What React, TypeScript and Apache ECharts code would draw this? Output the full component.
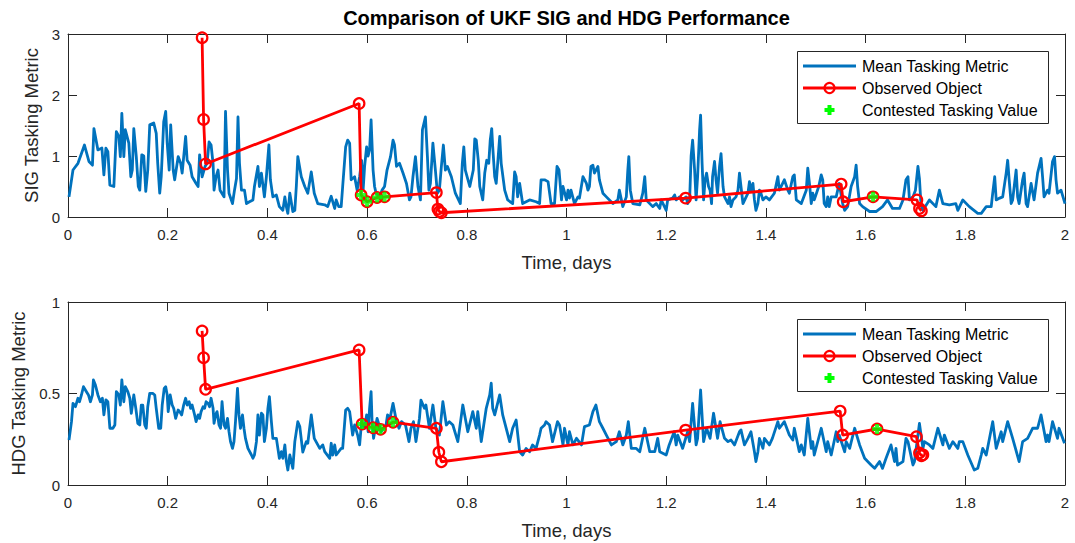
import React, { useEffect, useRef } from "react";
import * as echarts from "echarts";

// ---- Data -------------------------------------------------------------
// Time axis (days) tick labels
const timeTicks = [0, 0.2, 0.4, 0.6, 0.8, 1, 1.2, 1.4, 1.6, 1.8, 2];
const sigTicks = [0, 1, 2, 3];
const hdgTicks = [0, 0.5, 1];

// SIG: mean tasking metric [time, value]
const sigMean: [number, number][] = [
  [0.002, 0.33], [0.01, 0.77], [0.02, 0.88], [0.027, 1.04], [0.033, 1.18], [0.042, 0.91], [0.049, 0.85],
  [0.052, 1.45], [0.06, 1.1], [0.068, 1.13], [0.072, 0.69], [0.076, 1.13], [0.08, 1.07], [0.084, 0.52],
  [0.092, 0.5], [0.097, 1.4], [0.102, 1.32], [0.105, 0.99], [0.108, 1.7], [0.112, 0.99], [0.115, 1.43],
  [0.122, 1.21], [0.126, 0.66], [0.129, 0.77], [0.132, 1.45], [0.137, 0.99], [0.141, 0.5], [0.144, 0.44],
  [0.148, 1.02], [0.152, 1.0], [0.156, 0.42], [0.16, 0.77], [0.164, 1.51], [0.172, 1.54], [0.177, 1.37],
  [0.18, 0.88], [0.184, 0.39], [0.187, 0.66], [0.192, 1.56], [0.196, 1.73], [0.199, 1.21], [0.203, 0.77],
  [0.206, 1.51], [0.211, 0.77], [0.214, 0.61], [0.221, 0.99], [0.226, 0.88], [0.229, 0.72], [0.236, 1.32],
  [0.239, 0.93], [0.245, 0.85], [0.249, 0.66], [0.257, 0.55], [0.261, 0.5], [0.264, 1.02], [0.269, 0.66],
  [0.275, 0.83], [0.279, 0.88], [0.283, 1.23], [0.287, 1.18], [0.291, 0.88], [0.293, 0.44], [0.297, 0.66],
  [0.301, 0.77], [0.305, 0.44], [0.313, 0.33], [0.316, 1.73], [0.32, 0.77], [0.323, 0.39], [0.33, 0.22],
  [0.334, 0.44], [0.338, 0.63], [0.341, 1.64], [0.344, 0.88], [0.348, 0.44], [0.354, 0.44], [0.358, 0.22],
  [0.364, 0.25], [0.371, 0.28], [0.374, 0.5], [0.381, 0.83], [0.384, 0.5], [0.388, 0.72], [0.394, 0.33],
  [0.398, 0.66], [0.403, 1.18], [0.406, 0.61], [0.411, 0.33], [0.418, 0.36], [0.424, 0.17], [0.431, 0.11],
  [0.435, 0.33], [0.438, 0.17], [0.441, 0.06], [0.445, 0.39], [0.451, 0.09], [0.455, 0.11], [0.458, 0.5],
  [0.461, 0.99], [0.468, 0.66], [0.475, 0.5], [0.481, 0.39], [0.488, 0.74], [0.494, 0.39], [0.501, 0.22],
  [0.515, 0.2], [0.521, 0.17], [0.528, 0.34], [0.535, 0.14], [0.538, 0.28], [0.543, 0.17], [0.548, 0.17],
  [0.551, 0.5], [0.557, 1.15], [0.561, 1.26], [0.565, 1.21], [0.568, 0.61], [0.575, 0.66], [0.58, 0.44],
  [0.585, 0.66], [0.589, 0.93], [0.592, 0.44], [0.595, 0.83], [0.599, 1.15], [0.602, 1.0], [0.605, 1.1],
  [0.608, 1.59], [0.612, 0.77], [0.615, 0.5], [0.618, 0.39], [0.625, 0.33], [0.63, 0.44], [0.635, 0.5],
  [0.64, 0.77], [0.647, 0.99], [0.652, 1.26], [0.655, 1.18], [0.659, 0.83], [0.665, 0.88], [0.672, 0.72],
  [0.679, 0.55], [0.685, 0.28], [0.688, 0.33], [0.692, 0.66], [0.697, 0.99], [0.702, 0.5], [0.707, 0.28],
  [0.711, 1.43], [0.717, 1.64], [0.721, 0.99], [0.724, 0.44], [0.727, 0.55], [0.732, 1.21], [0.737, 0.77],
  [0.741, 0.39], [0.745, 0.44], [0.749, 0.83], [0.753, 1.18], [0.757, 0.77], [0.761, 0.83], [0.769, 0.66],
  [0.777, 0.39], [0.787, 0.22], [0.791, 0.88], [0.794, 1.15], [0.797, 0.77], [0.806, 0.5], [0.813, 0.77],
  [0.816, 1.28], [0.819, 1.26], [0.823, 0.93], [0.826, 0.5], [0.832, 0.28], [0.836, 0.72], [0.84, 0.93],
  [0.844, 0.88], [0.847, 1.26], [0.85, 1.45], [0.852, 1.15], [0.856, 0.66], [0.859, 0.55], [0.866, 1.32],
  [0.869, 0.88], [0.876, 0.44], [0.882, 0.28], [0.892, 0.22], [0.896, 0.74], [0.899, 0.66], [0.902, 0.33],
  [0.906, 0.55], [0.912, 0.22], [0.926, 0.28], [0.939, 0.25], [0.946, 0.22], [0.949, 0.61], [0.956, 0.61],
  [0.963, 0.58], [0.969, 0.22], [0.976, 0.22], [0.981, 0.83], [0.985, 0.77], [0.99, 0.28], [0.993, 0.5],
  [1.0, 0.28], [1.003, 0.44], [1.006, 0.31], [1.009, 0.44], [1.016, 0.22], [1.023, 0.33], [1.026, 0.31],
  [1.033, 0.66], [1.04, 0.55], [1.043, 0.44], [1.046, 0.5], [1.049, 0.83], [1.053, 0.85], [1.056, 0.72],
  [1.063, 0.83], [1.066, 0.61], [1.073, 0.39], [1.08, 0.33], [1.093, 0.22], [1.103, 0.28], [1.106, 0.44],
  [1.113, 0.17], [1.12, 0.33], [1.123, 0.77], [1.125, 0.99], [1.128, 0.44], [1.133, 0.22], [1.147, 0.2],
  [1.153, 0.39], [1.157, 0.66], [1.16, 0.28], [1.173, 0.17], [1.18, 0.22], [1.187, 0.14], [1.19, 0.28],
  [1.2, 0.11], [1.203, 0.28], [1.213, 0.31], [1.217, 0.36], [1.22, 0.28], [1.227, 0.33], [1.233, 0.28],
  [1.24, 0.33], [1.243, 0.22], [1.247, 0.28], [1.25, 1.0], [1.253, 1.26], [1.257, 0.77], [1.26, 0.28],
  [1.263, 0.66], [1.267, 1.43], [1.269, 1.67], [1.272, 0.88], [1.275, 0.28], [1.278, 0.61], [1.281, 0.72],
  [1.285, 0.5], [1.288, 0.44], [1.291, 0.22], [1.293, 0.66], [1.297, 0.91], [1.3, 0.61], [1.303, 0.39],
  [1.307, 0.83], [1.31, 1.04], [1.314, 0.5], [1.317, 0.33], [1.324, 0.22], [1.327, 0.33], [1.33, 0.17],
  [1.334, 0.28], [1.34, 0.33], [1.344, 0.44], [1.347, 0.72], [1.35, 0.5], [1.354, 0.22], [1.364, 0.39],
  [1.367, 0.58], [1.37, 0.44], [1.374, 0.55], [1.377, 0.28], [1.38, 0.11], [1.384, 0.22], [1.387, 0.44],
  [1.39, 0.39], [1.394, 0.28], [1.4, 0.33], [1.407, 0.28], [1.417, 0.39], [1.424, 0.66], [1.427, 0.44],
  [1.437, 0.61], [1.444, 0.44], [1.447, 0.39], [1.454, 0.66], [1.457, 0.69], [1.461, 0.28], [1.471, 0.22],
  [1.481, 0.44], [1.484, 0.8], [1.488, 0.5], [1.491, 0.22], [1.494, 0.39], [1.497, 0.28], [1.506, 0.5],
  [1.511, 0.69], [1.514, 0.61], [1.517, 0.22], [1.521, 0.17], [1.524, 0.33], [1.527, 0.17], [1.531, 0.33],
  [1.541, 0.33], [1.547, 0.55], [1.554, 0.22], [1.558, 0.11], [1.564, 0.17], [1.571, 0.5], [1.578, 0.66],
  [1.581, 0.85], [1.584, 0.5], [1.588, 0.22], [1.594, 0.17], [1.608, 0.09], [1.621, 0.09], [1.634, 0.17],
  [1.644, 0.28], [1.654, 0.14], [1.668, 0.14], [1.675, 0.28], [1.681, 0.61], [1.685, 0.66], [1.688, 0.28],
  [1.695, 0.33], [1.7, 0.44], [1.705, 0.83], [1.708, 0.63], [1.711, 0.22], [1.715, 0.11], [1.728, 0.28],
  [1.741, 0.17], [1.748, 0.44], [1.755, 0.22], [1.768, 0.2], [1.781, 0.22], [1.785, 0.11], [1.795, 0.28],
  [1.808, 0.17], [1.825, 0.06], [1.832, 0.06], [1.842, 0.17], [1.852, 0.17], [1.855, 0.39], [1.859, 0.66],
  [1.862, 0.28], [1.869, 0.31], [1.875, 0.33], [1.882, 0.72], [1.885, 0.93], [1.888, 0.61], [1.892, 0.22],
  [1.895, 0.28], [1.902, 0.77], [1.905, 0.33], [1.908, 0.22], [1.915, 0.61], [1.918, 0.72], [1.922, 0.22],
  [1.925, 0.17], [1.932, 0.55], [1.938, 0.28], [1.945, 0.72], [1.952, 0.96], [1.955, 0.66], [1.958, 0.33],
  [1.965, 0.44], [1.968, 0.39], [1.975, 0.91], [1.979, 0.99], [1.982, 0.61], [1.985, 0.39], [1.992, 0.44],
  [2.0, 0.22],
];

// SIG: observed object track [time, value]
const sigObserved: [number, number][] = [
  [0.269, 2.94], [0.272, 1.6], [0.276, 0.87], [0.584, 1.86], [0.588, 0.36], [0.6, 0.25], [0.62, 0.32],
  [0.635, 0.33], [0.739, 0.4], [0.742, 0.13], [0.745, 0.09], [0.749, 0.07], [1.239, 0.31], [1.551, 0.54],
  [1.555, 0.25], [1.615, 0.33], [1.703, 0.28], [1.708, 0.14], [1.712, 0.1],
];

// SIG: contested tasking values [time, value]
const sigContested: [number, number][] = [
  [0.588, 0.36], [0.6, 0.25], [0.62, 0.32], [0.635, 0.33], [1.615, 0.33],
];

// HDG: mean tasking metric [time, value]
const hdgMean: [number, number][] = [
  [0.002, 0.246], [0.007, 0.346], [0.01, 0.446], [0.015, 0.428], [0.02, 0.474], [0.023, 0.455],
  [0.027, 0.492], [0.031, 0.537], [0.037, 0.51], [0.041, 0.492], [0.045, 0.455], [0.049, 0.492],
  [0.051, 0.574], [0.055, 0.546], [0.06, 0.492], [0.065, 0.455], [0.069, 0.474], [0.072, 0.383],
  [0.076, 0.465], [0.08, 0.455], [0.084, 0.31], [0.09, 0.31], [0.094, 0.328], [0.097, 0.51],
  [0.102, 0.492], [0.105, 0.437], [0.108, 0.574], [0.112, 0.455], [0.115, 0.537], [0.12, 0.51],
  [0.124, 0.474], [0.127, 0.392], [0.132, 0.492], [0.136, 0.419], [0.14, 0.337], [0.144, 0.328],
  [0.147, 0.437], [0.15, 0.437], [0.154, 0.328], [0.157, 0.31], [0.16, 0.428], [0.164, 0.501],
  [0.17, 0.501], [0.174, 0.492], [0.177, 0.419], [0.182, 0.31], [0.186, 0.31], [0.189, 0.437],
  [0.193, 0.528], [0.196, 0.537], [0.199, 0.492], [0.201, 0.401], [0.205, 0.492], [0.209, 0.437],
  [0.212, 0.419], [0.216, 0.364], [0.221, 0.41], [0.224, 0.401], [0.228, 0.383], [0.232, 0.437],
  [0.236, 0.474], [0.239, 0.437], [0.243, 0.455], [0.246, 0.419], [0.249, 0.437], [0.254, 0.383],
  [0.257, 0.346], [0.261, 0.383], [0.264, 0.364], [0.267, 0.401], [0.271, 0.428], [0.274, 0.419],
  [0.277, 0.455], [0.281, 0.446], [0.284, 0.428], [0.287, 0.474], [0.291, 0.419], [0.293, 0.337],
  [0.296, 0.383], [0.299, 0.401], [0.303, 0.328], [0.306, 0.31], [0.309, 0.455], [0.313, 0.328],
  [0.316, 0.31], [0.32, 0.364], [0.323, 0.291], [0.326, 0.237], [0.33, 0.2], [0.333, 0.237],
  [0.336, 0.346], [0.34, 0.528], [0.343, 0.383], [0.346, 0.31], [0.35, 0.383], [0.353, 0.31],
  [0.356, 0.255], [0.361, 0.2], [0.368, 0.164], [0.371, 0.146], [0.374, 0.164], [0.378, 0.237],
  [0.381, 0.383], [0.384, 0.273], [0.388, 0.392], [0.391, 0.383], [0.394, 0.237], [0.398, 0.31],
  [0.401, 0.419], [0.404, 0.483], [0.408, 0.346], [0.411, 0.255], [0.418, 0.255], [0.424, 0.146],
  [0.428, 0.182], [0.431, 0.146], [0.435, 0.219], [0.438, 0.128], [0.441, 0.082], [0.445, 0.164],
  [0.451, 0.091], [0.455, 0.237], [0.461, 0.346], [0.465, 0.319], [0.471, 0.18], [0.478, 0.237],
  [0.481, 0.228], [0.488, 0.383], [0.494, 0.255], [0.505, 0.2], [0.511, 0.219], [0.515, 0.182],
  [0.525, 0.146], [0.528, 0.228], [0.531, 0.164], [0.535, 0.219], [0.538, 0.164], [0.548, 0.2],
  [0.551, 0.2], [0.557, 0.41], [0.561, 0.419], [0.565, 0.401], [0.571, 0.273], [0.575, 0.328],
  [0.581, 0.273], [0.585, 0.219], [0.589, 0.346], [0.595, 0.31], [0.599, 0.383], [0.602, 0.291],
  [0.605, 0.419], [0.608, 0.51], [0.61, 0.346], [0.613, 0.255], [0.62, 0.364], [0.628, 0.291],
  [0.638, 0.328], [0.641, 0.383], [0.646, 0.364], [0.652, 0.446], [0.659, 0.346], [0.664, 0.31],
  [0.669, 0.346], [0.677, 0.328], [0.684, 0.237], [0.688, 0.31], [0.693, 0.346], [0.698, 0.237],
  [0.705, 0.364], [0.708, 0.464], [0.715, 0.419], [0.718, 0.437], [0.725, 0.31], [0.732, 0.437],
  [0.738, 0.31], [0.745, 0.273], [0.752, 0.455], [0.759, 0.328], [0.765, 0.346], [0.772, 0.328],
  [0.782, 0.237], [0.792, 0.437], [0.802, 0.291], [0.812, 0.401], [0.819, 0.31], [0.822, 0.401],
  [0.829, 0.237], [0.839, 0.419], [0.846, 0.492], [0.849, 0.556], [0.852, 0.419], [0.856, 0.383],
  [0.866, 0.492], [0.872, 0.383], [0.886, 0.237], [0.892, 0.31], [0.899, 0.355], [0.906, 0.182],
  [0.912, 0.164], [0.919, 0.2], [0.926, 0.182], [0.932, 0.219], [0.939, 0.2], [0.946, 0.273],
  [0.949, 0.31], [0.956, 0.328], [0.959, 0.346], [0.966, 0.328], [0.972, 0.237], [0.982, 0.346],
  [0.986, 0.328], [0.993, 0.219], [0.996, 0.31], [1.003, 0.219], [1.006, 0.291], [1.013, 0.219],
  [1.02, 0.255], [1.03, 0.219], [1.036, 0.319], [1.046, 0.328], [1.053, 0.401], [1.059, 0.437],
  [1.066, 0.346], [1.073, 0.31], [1.08, 0.273], [1.09, 0.219], [1.1, 0.237], [1.106, 0.291],
  [1.113, 0.219], [1.12, 0.273], [1.124, 0.346], [1.13, 0.2], [1.14, 0.2], [1.147, 0.182],
  [1.157, 0.31], [1.167, 0.182], [1.177, 0.182], [1.183, 0.255], [1.187, 0.182], [1.2, 0.164],
  [1.206, 0.219], [1.216, 0.291], [1.22, 0.219], [1.223, 0.273], [1.233, 0.2], [1.243, 0.291],
  [1.247, 0.237], [1.253, 0.446], [1.26, 0.219], [1.263, 0.255], [1.269, 0.519], [1.275, 0.237],
  [1.281, 0.31], [1.288, 0.255], [1.295, 0.392], [1.303, 0.255], [1.308, 0.346], [1.317, 0.255],
  [1.324, 0.237], [1.33, 0.246], [1.337, 0.219], [1.347, 0.291], [1.35, 0.301], [1.357, 0.219],
  [1.364, 0.255], [1.37, 0.291], [1.377, 0.182], [1.38, 0.128], [1.384, 0.182], [1.387, 0.255],
  [1.394, 0.2], [1.397, 0.255], [1.407, 0.219], [1.413, 0.255], [1.424, 0.346], [1.427, 0.31],
  [1.437, 0.346], [1.447, 0.273], [1.454, 0.246], [1.457, 0.31], [1.467, 0.182], [1.471, 0.219],
  [1.477, 0.164], [1.484, 0.364], [1.491, 0.2], [1.494, 0.237], [1.497, 0.164], [1.511, 0.31],
  [1.521, 0.182], [1.524, 0.237], [1.531, 0.164], [1.541, 0.291], [1.544, 0.237], [1.547, 0.273],
  [1.558, 0.182], [1.561, 0.237], [1.568, 0.2], [1.578, 0.31], [1.588, 0.219], [1.598, 0.146],
  [1.611, 0.109], [1.618, 0.091], [1.628, 0.128], [1.634, 0.091], [1.641, 0.146], [1.651, 0.219],
  [1.658, 0.128], [1.661, 0.2], [1.664, 0.109], [1.675, 0.128], [1.681, 0.255], [1.685, 0.237],
  [1.695, 0.109], [1.698, 0.128], [1.708, 0.337], [1.715, 0.2], [1.718, 0.237], [1.728, 0.219],
  [1.735, 0.2], [1.745, 0.31], [1.755, 0.219], [1.758, 0.273], [1.768, 0.2], [1.775, 0.237],
  [1.785, 0.2], [1.788, 0.237], [1.795, 0.237], [1.805, 0.164], [1.818, 0.082], [1.825, 0.091],
  [1.832, 0.164], [1.835, 0.2], [1.842, 0.164], [1.855, 0.346], [1.862, 0.2], [1.872, 0.291],
  [1.875, 0.237], [1.885, 0.346], [1.895, 0.255], [1.908, 0.128], [1.915, 0.237], [1.925, 0.255],
  [1.935, 0.31], [1.945, 0.31], [1.952, 0.383], [1.962, 0.237], [1.965, 0.273], [1.968, 0.237],
  [1.975, 0.346], [1.985, 0.255], [1.988, 0.31], [1.999, 0.228],
];

// HDG: observed object track [time, value]
const hdgObserved: [number, number][] = [
  [0.269, 0.842], [0.272, 0.696], [0.276, 0.523], [0.584, 0.738], [0.59, 0.333], [0.612, 0.313],
  [0.627, 0.304], [0.652, 0.343], [0.739, 0.31], [0.744, 0.179], [0.749, 0.127], [1.239, 0.3],
  [1.549, 0.404], [1.554, 0.273], [1.623, 0.306], [1.702, 0.264], [1.708, 0.175], [1.712, 0.16],
  [1.715, 0.165],
];

// HDG: contested tasking values [time, value]
const hdgContested: [number, number][] = [
  [0.59, 0.333], [0.612, 0.313], [0.627, 0.304], [0.652, 0.343], [1.623, 0.306],
];

const seriesNames = ["Mean Tasking Metric", "Observed Object", "Contested Tasking Value"];

// ---- Styling ----------------------------------------------------------
const FONT = '"Liberation Sans", Arial, Helvetica, sans-serif';
const AXIS_COLOR = "#262626";
const BLUE = "#0072BD";
const RED = "#FF0000";
const GREEN = "#00FF00";
const PLUS_PATH = "path://M3,0H7V3H10V7H7V10H3V7H0V3H3Z";
const LINE_W = 2.8;

const GRID_LEFT = 68;
const GRID_WIDTH = 997;
const GRID_HEIGHT = 183;
const GRID_TOPS = [34, 302];

function fmt(v: number) {
  return String(Number(v.toFixed(2)));
}

function xAxes(gridIndex: number) {
  const base = {
    type: "value" as const,
    gridIndex,
    min: timeTicks[0],
    max: timeTicks[timeTicks.length - 1],
    interval: timeTicks[1] - timeTicks[0],
    splitLine: { show: false },
    axisLine: { show: true, onZero: false, lineStyle: { color: AXIS_COLOR, width: 1 } },
    axisTick: { show: true, inside: true, length: 9, lineStyle: { color: AXIS_COLOR, width: 1 } },
  };
  return [
    {
      ...base,
      position: "bottom" as const,
      axisLabel: { show: true, margin: 10, fontSize: 15, color: AXIS_COLOR, fontFamily: FONT, formatter: fmt },
      name: "Time, days",
      nameLocation: "middle" as const,
      nameGap: 36,
      nameTextStyle: { fontSize: 18.5, color: AXIS_COLOR, fontFamily: FONT },
    },
    { ...base, position: "top" as const, axisLabel: { show: false } },
  ];
}

function yAxes(gridIndex: number, ticks: number[], name: string, nameGap: number) {
  const base = {
    type: "value" as const,
    gridIndex,
    min: ticks[0],
    max: ticks[ticks.length - 1],
    interval: ticks[1] - ticks[0],
    splitLine: { show: false },
    axisLine: { show: true, onZero: false, lineStyle: { color: AXIS_COLOR, width: 1 } },
    axisTick: { show: true, inside: true, length: 9, lineStyle: { color: AXIS_COLOR, width: 1 } },
  };
  return [
    {
      ...base,
      position: "left" as const,
      axisLabel: { show: true, margin: 8, fontSize: 15, color: AXIS_COLOR, fontFamily: FONT, formatter: fmt },
      name,
      nameLocation: "middle" as const,
      nameGap,
      nameTextStyle: { fontSize: 18.5, color: AXIS_COLOR, fontFamily: FONT },
    },
    { ...base, position: "right" as const, axisLabel: { show: false } },
  ];
}

function plotSeries(
  axisIndex: number,
  mean: [number, number][],
  observed: [number, number][],
  contested: [number, number][]
) {
  return [
    {
      name: seriesNames[0],
      type: "line",
      xAxisIndex: axisIndex,
      yAxisIndex: axisIndex,
      data: mean,
      symbol: "none",
      showSymbol: false,
      lineStyle: { color: BLUE, width: LINE_W, join: "round" },
      z: 2,
    },
    {
      name: seriesNames[1],
      type: "line",
      xAxisIndex: axisIndex,
      yAxisIndex: axisIndex,
      data: observed,
      symbol: "circle",
      symbolSize: 10.5,
      itemStyle: { color: "rgba(0,0,0,0)", borderColor: RED, borderWidth: 2.2 },
      lineStyle: { color: RED, width: LINE_W },
      z: 3,
    },
    {
      name: seriesNames[2],
      type: "scatter",
      xAxisIndex: axisIndex,
      yAxisIndex: axisIndex,
      data: contested,
      symbol: PLUS_PATH,
      symbolSize: 10,
      itemStyle: { color: GREEN },
      z: 4,
    },
  ];
}

// Boxed legend drawn with graphic elements
function legendBox(top: number) {
  const left = 797;
  const rows = [top + 15, top + 37, top + 59];
  const iconL = 803;
  const iconR = 856;
  const iconC = (iconL + iconR) / 2;
  const textX = 862;
  const a = 5;
  const b = 2;
  const els: any[] = [
    {
      type: "rect",
      z: 100,
      shape: { x: left + 0.5, y: top + 0.5, width: 251, height: 72 },
      style: { fill: "#ffffff", stroke: AXIS_COLOR, lineWidth: 1 },
    },
    {
      type: "line",
      z: 101,
      shape: { x1: iconL, y1: rows[0], x2: iconR, y2: rows[0] },
      style: { stroke: BLUE, lineWidth: LINE_W },
    },
    {
      type: "line",
      z: 101,
      shape: { x1: iconL, y1: rows[1], x2: iconR, y2: rows[1] },
      style: { stroke: RED, lineWidth: LINE_W },
    },
    {
      type: "circle",
      z: 102,
      shape: { cx: iconC, cy: rows[1], r: 5 },
      style: { fill: "none", stroke: RED, lineWidth: 2.2 },
    },
    {
      type: "polygon",
      z: 102,
      shape: {
        points: [
          [iconC - b, rows[2] - a], [iconC + b, rows[2] - a], [iconC + b, rows[2] - b],
          [iconC + a, rows[2] - b], [iconC + a, rows[2] + b], [iconC + b, rows[2] + b],
          [iconC + b, rows[2] + a], [iconC - b, rows[2] + a], [iconC - b, rows[2] + b],
          [iconC - a, rows[2] + b], [iconC - a, rows[2] - b], [iconC - b, rows[2] - b],
        ],
      },
      style: { fill: GREEN },
    },
  ];
  seriesNames.forEach((name, i) => {
    els.push({
      type: "text",
      z: 102,
      x: textX,
      y: rows[i],
      style: {
        text: name,
        fontSize: 16,
        fontFamily: FONT,
        fill: "#000000",
        align: "left",
        verticalAlign: "middle",
      },
    });
  });
  return els;
}

const option: any = {
  animation: false,
  backgroundColor: "#ffffff",
  grid: GRID_TOPS.map((top) => ({
    left: GRID_LEFT,
    top,
    width: GRID_WIDTH,
    height: GRID_HEIGHT,
    containLabel: false,
  })),
  xAxis: [...xAxes(0), ...xAxes(1)],
  yAxis: [
    ...yAxes(0, sigTicks, "SIG Tasking Metric", 22),
    ...yAxes(1, hdgTicks, "HDG Tasking Metric", 36),
  ],
  series: [
    ...plotSeries(0, sigMean, sigObserved, sigContested),
    ...plotSeries(2, hdgMean, hdgObserved, hdgContested),
  ],
  graphic: [
    {
      type: "text",
      z: 100,
      x: GRID_LEFT + GRID_WIDTH / 2,
      y: 18,
      style: {
        text: "Comparison of UKF SIG and HDG Performance",
        fontSize: 20,
        fontWeight: "bold",
        fontFamily: FONT,
        fill: "#000000",
        align: "center",
        verticalAlign: "middle",
      },
    },
    ...legendBox(51),
    ...legendBox(319),
  ],
};

export default function App() {
  const ref = useRef<HTMLDivElement>(null);
  useEffect(() => {
    document.body.style.margin = "0";
    if (!ref.current) return;
    const chart = echarts.init(ref.current, null, { renderer: "svg" });
    chart.setOption(option);
    return () => {
      chart.dispose();
    };
  }, []);
  return <div ref={ref} style={{ width: 1075, height: 543 }} />;
}
